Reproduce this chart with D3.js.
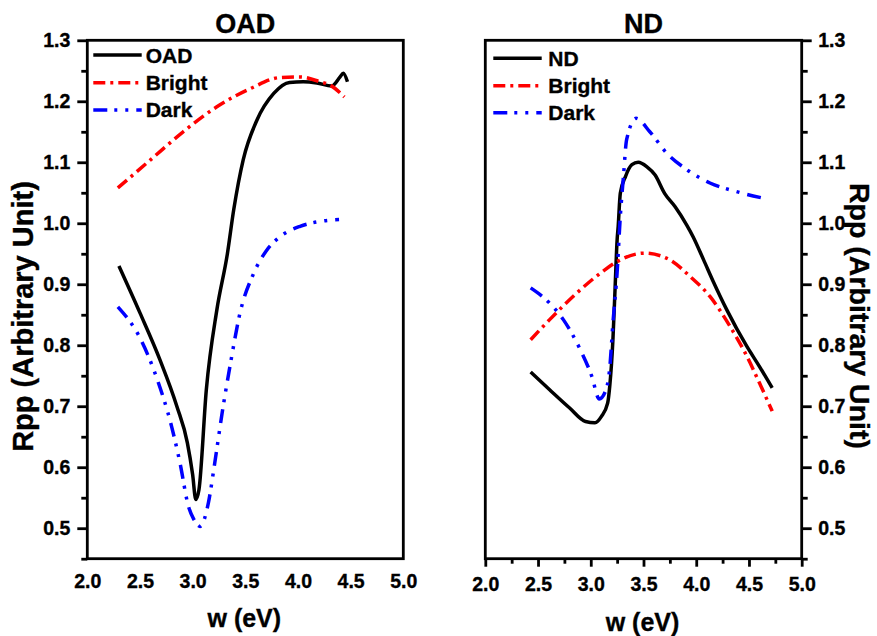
<!DOCTYPE html>
<html>
<head>
<meta charset="utf-8">
<script src="https://cdn.jsdelivr.net/npm/d3@7"></script>
<style>
  html, body { margin: 0; padding: 0; background: #fff; }
  svg { display: block; font-family: "Liberation Sans", Arial, sans-serif; font-weight: bold; }
  svg text { stroke: #000; stroke-width: 0.35px; }
</style>
</head>
<body>
<svg id="chart" width="877" height="636"></svg>
<script>
// ---- OAD panel series (photon energy w in eV, Rpp in arbitrary units) ----
const oadW      = [2.30, 2.50, 2.69, 2.85, 2.95, 3.00, 3.03, 3.06, 3.13, 3.23, 3.33, 3.39, 3.48, 3.61, 3.77, 3.92, 4.05, 4.18, 4.32, 4.40, 4.43, 4.47];
const oadRpp    = [0.930, 0.853, 0.776, 0.700, 0.640, 0.588, 0.547, 0.563, 0.727, 0.858, 0.950, 1.022, 1.104, 1.169, 1.213, 1.231, 1.232, 1.230, 1.225, 1.240, 1.246, 1.232];
const oadBrightW   = [2.29, 2.60, 2.91, 3.23, 3.55, 3.83, 4.02, 4.21, 4.30, 4.44];
const oadBrightRpp = [1.058, 1.104, 1.150, 1.191, 1.221, 1.239, 1.240, 1.232, 1.227, 1.207];
const oadDarkW     = [2.29, 2.50, 2.67, 2.80, 2.88, 2.96, 3.01, 3.07, 3.15, 3.21, 3.28, 3.36, 3.45, 3.58, 3.70, 3.83, 4.02, 4.21, 4.39];
const oadDarkRpp   = [0.863, 0.812, 0.741, 0.667, 0.607, 0.536, 0.515, 0.503, 0.542, 0.607, 0.689, 0.771, 0.853, 0.918, 0.955, 0.978, 0.995, 1.003, 1.006];

// ---- ND panel series ----
const ndW      = [2.43, 2.61, 2.80, 2.95, 3.04, 3.10, 3.16, 3.18, 3.21, 3.23, 3.25, 3.26, 3.28, 3.33, 3.39, 3.45, 3.53, 3.61, 3.70, 3.80, 3.91, 3.97, 4.07, 4.16, 4.29, 4.48, 4.60, 4.72];
const ndRpp    = [0.756, 0.727, 0.697, 0.675, 0.673, 0.683, 0.705, 0.733, 0.809, 0.891, 0.973, 0.995, 1.049, 1.077, 1.096, 1.100, 1.093, 1.079, 1.049, 1.027, 0.997, 0.978, 0.940, 0.905, 0.858, 0.798, 0.765, 0.730];
const ndBrightW   = [2.43, 2.61, 2.87, 3.09, 3.28, 3.51, 3.75, 3.94, 4.13, 4.32, 4.48, 4.60, 4.72];
const ndBrightRpp = [0.809, 0.842, 0.886, 0.918, 0.940, 0.951, 0.940, 0.913, 0.880, 0.831, 0.782, 0.738, 0.692];
const ndDarkW     = [2.43, 2.61, 2.74, 2.90, 3.01, 3.08, 3.14, 3.18, 3.21, 3.25, 3.28, 3.31, 3.34, 3.43, 3.56, 3.72, 3.91, 4.13, 4.38, 4.64];
const ndDarkRpp   = [0.894, 0.869, 0.842, 0.793, 0.749, 0.712, 0.725, 0.763, 0.836, 0.920, 1.011, 1.077, 1.137, 1.172, 1.150, 1.115, 1.088, 1.066, 1.052, 1.041];

// ---- axis ticks and labels ----
const xMajorTicks = [2.0, 2.5, 3.0, 3.5, 4.0, 4.5, 5.0];
const xMinorTicks = [2.25, 2.75, 3.25, 3.75, 4.25, 4.75];
const yMajorTicks = [0.5, 0.6, 0.7, 0.8, 0.9, 1.0, 1.1, 1.2, 1.3];
const yMinorTicks = [0.45, 0.55, 0.65, 0.75, 0.85, 0.95, 1.05, 1.15, 1.25];
const xDomain = [2, 5];
const yDomain = [0.45, 1.3];
const yTitle = "Rpp (Arbitrary Unit)";
const xTitle = "w (eV)";

const zip = (ws, vs) => ws.map((w, i) => ({ w, v: vs[i] }));

const styles = {
  main:   { color: "#000000", dash: null },
  bright: { color: "#ff0000", dash: "12,5,3,5" },
  dark:   { color: "#0000ff", dash: "14,7,3,8,3,8" }
};

const panels = [
  {
    title: "OAD", left: 87.3, right: 403.3, yAxisSide: "left", xTicks: false,
    series: [
      { name: "OAD",    style: "main",   data: zip(oadW, oadRpp) },
      { name: "Bright", style: "bright", data: zip(oadBrightW, oadBrightRpp) },
      { name: "Dark",   style: "dark",   data: zip(oadDarkW, oadDarkRpp) }
    ],
    legend: { x0: 93.3, x1: 141.7, tx: 145.7, ys: [55, 82.7, 110], base: [62.7, 90, 117.3] },
    xLabelY: 627, xTickPad: 15
  },
  {
    title: "ND", left: 485.3, right: 801.7, yAxisSide: "right", xTicks: true,
    series: [
      { name: "ND",     style: "main",   data: zip(ndW, ndRpp) },
      { name: "Bright", style: "bright", data: zip(ndBrightW, ndBrightRpp) },
      { name: "Dark",   style: "dark",   data: zip(ndDarkW, ndDarkRpp) }
    ],
    legend: { x0: 493.3, x1: 541.7, tx: 548.3, ys: [58.3, 85.7, 112.7], base: [65.7, 92.7, 120] },
    xLabelY: 630.5, xTickPad: 10
  }
];

const plotTop = 40.3, plotBottom = 558.7;
const svg = d3.select("#chart");
const axisW = 2.8, lineW = 3.5;

const y = d3.scaleLinear().domain(yDomain).range([plotBottom, plotTop]);

panels.forEach(p => {
  const x = d3.scaleLinear().domain(xDomain).range([p.left, p.right]);
  const g = svg.append("g");

  // curves
  const line = d3.line().x(d => x(d.w)).y(d => y(d.v)).curve(d3.curveMonotoneX);
  p.series.forEach(s => {
    const st = styles[s.style];
    g.append("path").datum(s.data)
      .attr("d", line)
      .attr("fill", "none")
      .attr("stroke", st.color)
      .attr("stroke-width", lineW)
      .attr("stroke-linejoin", "round")
      .attr("stroke-dasharray", st.dash);
  });

  // frame
  g.append("rect")
    .attr("x", p.left).attr("y", plotTop)
    .attr("width", p.right - p.left).attr("height", plotBottom - plotTop)
    .attr("fill", "none").attr("stroke", "#000").attr("stroke-width", axisW);

  // y axis
  const yPos = p.yAxisSide === "left" ? p.left : p.right;
  const yAxisMaj = (p.yAxisSide === "left" ? d3.axisLeft(y) : d3.axisRight(y))
    .tickValues(yMajorTicks).tickFormat(d3.format(".1f"))
    .tickSize(10).tickPadding(p.yAxisSide === "left" ? 7 : 6.5);
  const yAxisMin = (p.yAxisSide === "left" ? d3.axisLeft(y) : d3.axisRight(y))
    .tickValues(yMinorTicks).tickFormat("").tickSize(6);
  const yg = g.append("g").attr("transform", `translate(${yPos},0)`).call(yAxisMaj);
  g.append("g").attr("transform", `translate(${yPos},0)`).call(yAxisMin)
    .select(".domain").remove();
  yg.select(".domain").remove();

  // x axis
  const xAxisMaj = d3.axisBottom(x).tickValues(xMajorTicks).tickFormat(d3.format(".1f"))
    .tickSize(p.xTicks ? 8 : 0).tickPadding(p.xTickPad);
  const xg = g.append("g").attr("transform", `translate(0,${plotBottom})`).call(xAxisMaj);
  xg.select(".domain").remove();
  if (p.xTicks) {
    const xm = g.append("g").attr("transform", `translate(0,${plotBottom})`)
      .call(d3.axisBottom(x).tickValues(xMinorTicks).tickFormat("").tickSize(5));
    xm.select(".domain").remove();
  }

  g.selectAll(".tick line").attr("stroke", "#000").attr("stroke-width", axisW);
  g.selectAll(".tick text")
    .attr("fill", "#000")
    .style("font-family", '"Liberation Sans", Arial, sans-serif')
    .style("font-weight", "bold")
    .style("font-size", "19.5px");

  // title
  svg.append("text")
    .attr("x", (p.left + p.right) / 2).attr("y", 33)
    .attr("text-anchor", "middle")
    .style("font-size", "27px")
    .text(p.title);

  // x title
  svg.append("text")
    .attr("x", (p.left + p.right) / 2 - 1).attr("y", p.xLabelY)
    .attr("text-anchor", "middle")
    .style("font-size", "25px")
    .text(xTitle);

  // legend
  p.series.forEach((s, i) => {
    const st = styles[s.style];
    svg.append("line")
      .attr("x1", p.legend.x0).attr("x2", p.legend.x1)
      .attr("y1", p.legend.ys[i]).attr("y2", p.legend.ys[i])
      .attr("stroke", st.color).attr("stroke-width", lineW)
      .attr("stroke-dasharray", st.dash);
    svg.append("text")
      .attr("x", p.legend.tx).attr("y", p.legend.base[i])
      .style("font-size", "21px")
      .text(s.name);
  });
});

// y titles
svg.append("text")
  .attr("transform", "translate(33,316.5) rotate(-90)")
  .attr("text-anchor", "middle")
  .style("font-size", "29px")
  .text(yTitle);
svg.append("text")
  .attr("transform", "translate(850,316) rotate(90)")
  .attr("text-anchor", "middle")
  .style("font-size", "28.5px")
  .text(yTitle);
</script>
</body>
</html>
